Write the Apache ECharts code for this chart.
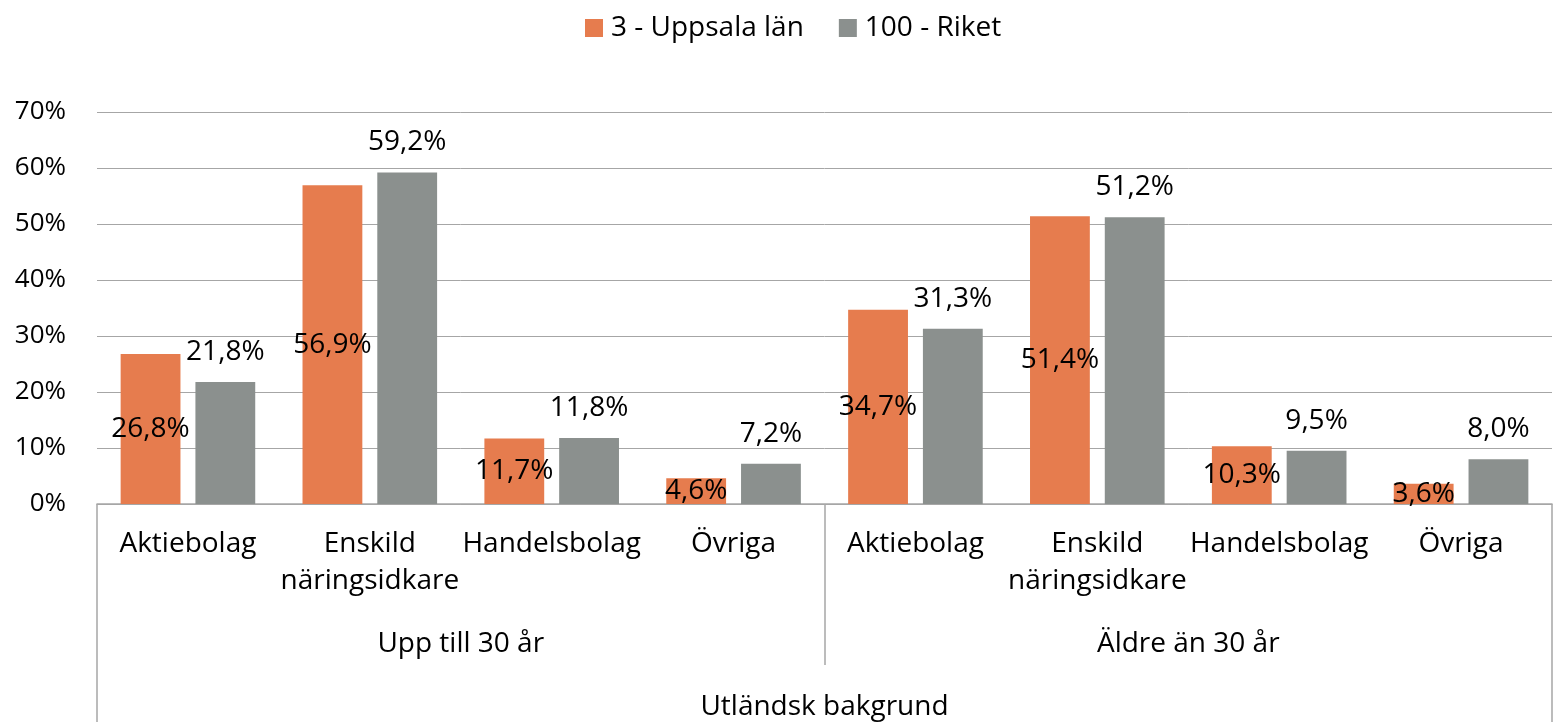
<!DOCTYPE html>
<html>
<head>
<meta charset="utf-8">
<script src="https://cdn.jsdelivr.net/npm/echarts@6/dist/echarts.min.js"></script>
<style>
  html, body { margin: 0; padding: 0; background: #fff; }
  #main { width: 1554px; height: 722px; }
</style>
</head>
<body>
<div id="main"></div>
<script>
const categories = ['Aktiebolag', 'Enskild\nnäringsidkare', 'Handelsbolag', 'Övriga',
    'Aktiebolag', 'Enskild\nnäringsidkare', 'Handelsbolag', 'Övriga']
const ageGroups = ['Upp till 30 år', 'Äldre än 30 år']
const background = ['Utländsk bakgrund']
const seriesNames = ['3 - Uppsala län', '100 - Riket']
const uppsala = [26.8, 56.9, 11.7, 4.6, 34.7, 51.4, 10.3, 3.6]
const riket = [21.8, 59.2, 11.8, 7.2, 31.3, 51.2, 9.5, 8.0]

const FONT = 'Open Sans'
const LINE = '#A6A6A6'
const FS = 28

const chart = echarts.init(document.getElementById('main'))

const pct = p => p.value.toFixed(1).replace('.', ',') + '%'

const option = {
    animation: false,
    textStyle: { fontFamily: FONT, color: '#000' },
    legend: {
        top: 9,
        left: 580,
        itemWidth: 18,
        itemHeight: 18,
        itemGap: 35,
        icon: 'rect',
        textStyle: { fontSize: FS, lineHeight: 28, color: '#000', fontFamily: FONT, padding: [0, 0, 0, 3] },
        data: seriesNames
    },
    grid: { left: 97, right: 2, top: 112, bottom: 218, outerBoundsMode: 'none', containLabel: false },
    xAxis: [
        {
            type: 'category',
            data: categories,
            axisLine: { lineStyle: { color: LINE, width: 1.5 } },
            axisTick: { show: false },
            axisLabel: {
                interval: 0,
                fontSize: FS,
                lineHeight: 37,
                margin: 22,
                color: '#000',
                fontFamily: FONT
            }
        },
        {
            type: 'category',
            data: ageGroups,
            position: 'bottom',
            axisLine: { show: false },
            axisTick: { show: true, length: 161, lineStyle: { color: LINE, width: 1.5 } },
            axisLabel: {
                interval: 0,
                fontSize: FS,
                lineHeight: 37,
                margin: 122,
                color: '#000',
                fontFamily: FONT
            }
        },
        {
            type: 'category',
            data: background,
            position: 'bottom',
            axisLine: { show: false },
            axisTick: { show: true, length: 218, lineStyle: { color: LINE, width: 1.5 } },
            axisLabel: {
                fontSize: FS,
                lineHeight: 37,
                margin: 185,
                color: '#000',
                fontFamily: FONT
            }
        }
    ],
    yAxis: {
        type: 'value',
        min: 0,
        max: 70,
        interval: 10,
        axisLine: { show: false },
        axisTick: { show: false },
        splitLine: { lineStyle: { color: LINE, width: 1 } },
        axisLabel: {
            formatter: '{value}%',
            fontSize: 26,
            margin: 31,
            color: '#000',
            fontFamily: FONT
        }
    },
    series: [
        {
            name: seriesNames[0],
            type: 'bar',
            data: uppsala,
            barGap: '25%',
            barCategoryGap: '26%',
            itemStyle: { color: '#E67C4E' },
            label: {
                show: true,
                position: 'inside',
                formatter: pct,
                fontSize: FS,
                color: '#000',
                fontFamily: FONT
            }
        },
        {
            name: seriesNames[1],
            type: 'bar',
            data: riket,
            barGap: '25%',
            barCategoryGap: '26%',
            itemStyle: { color: '#8B908E' },
            label: {
                show: true,
                position: 'top',
                distance: 16,
                formatter: pct,
                fontSize: FS,
                color: '#000',
                fontFamily: FONT
            }
        }
    ]
}

chart.setOption(option)
</script>
</body>
</html>
